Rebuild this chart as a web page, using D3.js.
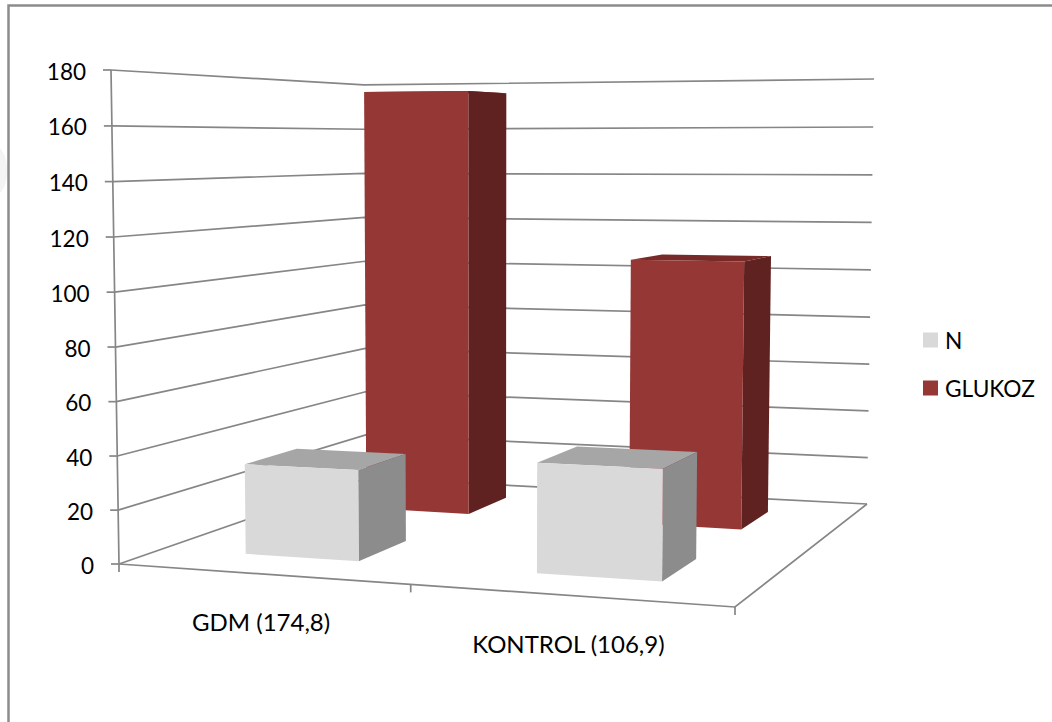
<!DOCTYPE html>
<html><head><meta charset="utf-8">
<script src="https://cdn.jsdelivr.net/npm/d3@7/dist/d3.min.js"></script>
<style>html,body{margin:0;padding:0;background:#fff;overflow:hidden}svg{display:block}text{font-family:Lato,"Open Sans",sans-serif;fill:#000}</style>
</head><body><svg id="c" width="1052" height="722"></svg>
<script>
const categories = ["GDM (174,8)", "KONTROL (106,9)"];
const seriesNames = ["N", "GLUKOZ"];
const nValues = [34, 40];
const glukozValues = [174.8, 106.9];
const tickValues = [0, 20, 40, 60, 80, 100, 120, 140, 160, 180];
const seriesColors = {N:{front:"#d9d9d9",side:"#8c8c8c",top:"#a6a6a6"},GLUKOZ:{front:"#953735",side:"#602220",top:"#772a28"}};

// Projection of the chart box: u across categories, d into depth, z up.
const FL=[119,564],FR=[735,607],BR=[867,504],BL=[366,478], FLtop=[111,70], BRtop=[874,79];
const sx=FL[0]-FR[0]+BR[0]-BL[0], sy=FL[1]-FR[1]+BR[1]-BL[1];
const dx1=FR[0]-BR[0], dx2=BL[0]-BR[0], dy1=FR[1]-BR[1], dy2=BL[1]-BR[1];
const den=dx1*dy2-dx2*dy1;
const g=(sx*dy2-dx2*sy)/den, h=(dx1*sy-sx*dy1)/den;
const a=FR[0]-FL[0]+g*FR[0], b=BL[0]-FL[0]+h*BL[0], c=FL[0];
const dd=FR[1]-FL[1]+g*FR[1], e=BL[1]-FL[1]+h*BL[1], f=FL[1];
const wBR=1+g+h;
const i=(FLtop[0]-FL[0]-(BRtop[0]-BR[0])*wBR)/(BRtop[0]-FLtop[0]);
const jx=FLtop[0]*(1+i)-FL[0], jy=FLtop[1]*(1+i)-FL[1];
const ky=BRtop[1]*(wBR+i)-BR[1]*wBR-jy;
function project(u,d,z){
  const w=1+g*u+h*d+i*z;
  return [(a*u+b*d+c+jx*z)/w,(dd*u+e*d+f+(jy+ky*u)*z)/w];
}
const zScale=d3.scaleLinear().domain([0,180]).range([0,1]);
const uScale=d3.scaleBand().domain(categories).range([0,1]).paddingInner(.6).paddingOuter(.3);
const dScale=d3.scaleBand().domain(seriesNames).range([0,1]).paddingInner(.6).paddingOuter(.3);
const svg=d3.select("#c");
const line=d3.line();
const gridCol="#868686";

// frame and faint smudge
svg.append("path").attr("d","M0,148 C6,155 8,165 7,175 C6,185 3,190 0,193 Z").attr("fill","#f4f4f4");
svg.append("path").attr("d","M8.5,722 V5.5 H1052").attr("fill","none").attr("stroke","#8c8c8c").attr("stroke-width",2.5);

// gridlines on both walls
const grid=svg.append("g").attr("fill","none").attr("stroke",gridCol).attr("stroke-width",1.7);
tickValues.forEach(t=>{
  const z=zScale(t);
  grid.append("path").attr("d",line([project(0,0,z),project(0,1,z),project(1,1,z)]));
  const p=project(0,0,z);
  grid.append("path").attr("d",line([[p[0]-8,p[1]],p]));
});
// axes and floor edges
grid.append("path").attr("d",line([project(0,0,1),project(0,0,0),[FL[0],FL[1]+8]]));
grid.append("path").attr("d",line([project(0,0,0),project(1,0,0),project(1,1,0)]));
[.5,1].forEach(u=>{const p=project(u,0,0);grid.append("path").attr("d",line([p,[p[0],p[1]+8]]));});

// value labels
svg.append("g").selectAll("text").data(tickValues).join("text")
  .attr("x",t=>project(0,0,zScale(t))[0]-25)
  .attr("y",t=>project(0,0,zScale(t))[1]+1)
  .attr("text-anchor","end").attr("dominant-baseline","central").attr("font-size",22.5).text(t=>t);

// bars: rear series first
function bar(cat,ser,val){
  const u0=uScale(cat),u1=u0+uScale.bandwidth(),d0=dScale(ser),d1=d0+dScale.bandwidth(),z=zScale(val),col=seriesColors[ser];
  const G=svg.append("g");
  const face=(pts,fill)=>G.append("path").attr("d",line(pts)+"Z").attr("fill",fill);
  face([project(u0,d0,z),project(u1,d0,z),project(u1,d1,z),project(u0,d1,z)],col.top);
  face([project(u1,d0,0),project(u1,d1,0),project(u1,d1,z),project(u1,d0,z)],col.side);
  face([project(u0,d0,0),project(u1,d0,0),project(u1,d0,z),project(u0,d0,z)],col.front);
}
categories.forEach((cat,k)=>bar(cat,"GLUKOZ",glukozValues[k]));
categories.forEach((cat,k)=>bar(cat,"N",nValues[k]));

// category labels
svg.append("g").selectAll("text").data(categories).join("text")
  .attr("x",cat=>project(uScale(cat)+uScale.bandwidth()/2,0,0)[0])
  .attr("y",cat=>project(uScale(cat)+uScale.bandwidth()/2,0,0)[1]+48)
  .attr("text-anchor","middle").attr("dominant-baseline","central").attr("font-size",24).text(d=>d);

// legend
const legY=d3.scalePoint().domain(seriesNames).range([340,388]);
const leg=svg.append("g").selectAll("g").data(seriesNames).join("g");
leg.append("rect").attr("x",923).attr("y",s=>legY(s)-7.5).attr("width",15).attr("height",15).attr("fill",s=>seriesColors[s].front);
leg.append("text").attr("x",945).attr("y",s=>legY(s)).attr("dominant-baseline","central").attr("font-size",22.7).text(s=>s);
</script></body></html>
